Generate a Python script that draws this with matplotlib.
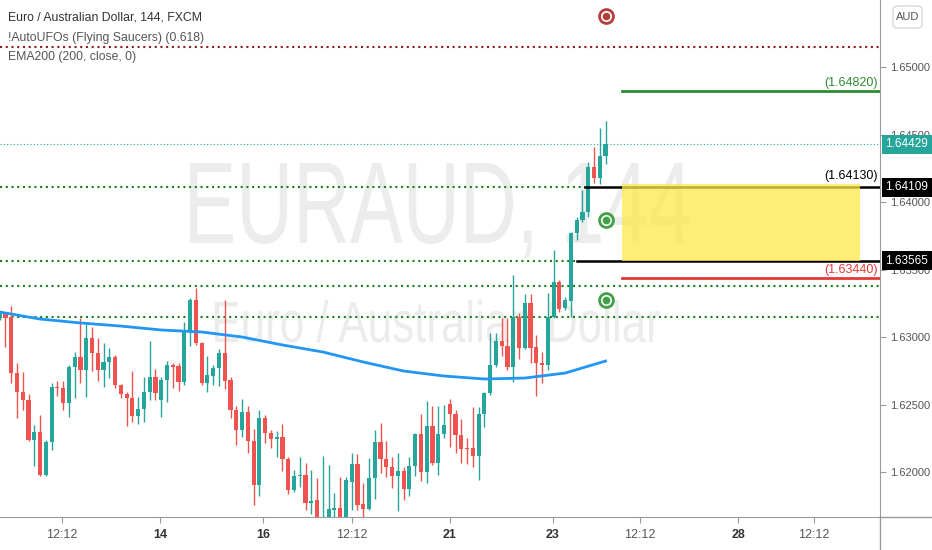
import numpy as np
import matplotlib.pyplot as plt
from matplotlib.patches import Rectangle, FancyBboxPatch, PathPatch
from matplotlib.lines import Line2D
from matplotlib.textpath import TextPath
from matplotlib.font_manager import FontProperties
from matplotlib.transforms import Affine2D

plt.rcParams['font.family'] = ['Liberation Sans', 'DejaVu Sans']

# EURAUD 144 min candles
opens = [1.63141, 1.63178, 1.63148, 1.62733, 1.62592, 1.62533, 1.62237, 1.62296, 1.61977, 1.62222,
         1.62629, 1.62622, 1.62511, 1.62778, 1.62852, 1.62755, 1.62992, 1.62881, 1.62755, 1.62815,
         1.62852, 1.62644, 1.62578, 1.62548, 1.62414, 1.62466, 1.62592, 1.62703, 1.62533, 1.62681,
         1.62792, 1.62785, 1.62666, 1.63037, 1.63274, 1.62955, 1.62659, 1.62711, 1.62770, 1.62881,
         1.62681, 1.62459, 1.62311, 1.62444, 1.62229, 1.61903, 1.62400, 1.62289, 1.62244, 1.62259,
         1.62096, 1.61866, 1.61970, 1.61977, 1.61770, 1.61792, 1.61637, 1.61659, 1.61718, 1.61733,
         1.61659, 1.61926, 1.62059, 1.61762, 1.61726, 1.61955, 1.62222, 1.62096, 1.62037, 1.61970,
         1.62007, 1.61874, 1.62044, 1.62281, 1.62000, 1.62340, 1.62066, 1.62281, 1.62503, 1.62429,
         1.62274, 1.62178, 1.62178, 1.62118, 1.62429, 1.62585, 1.62792, 1.62970, 1.62933, 1.62778,
         1.63148, 1.62918, 1.63252, 1.62926, 1.62807, 1.62792, 1.63148, 1.63407, 1.63215, 1.63267,
         1.63770, 1.63867, 1.63926, 1.64259, 1.64178, 1.64341]
highs = [1.63192, 1.63185, 1.63230, 1.62807, 1.62740, 1.62578, 1.62348, 1.62422, 1.62237, 1.62659,
         1.62674, 1.62674, 1.62792, 1.62889, 1.63141, 1.63096, 1.63074, 1.62992, 1.62955, 1.62918,
         1.62866, 1.62652, 1.62592, 1.62748, 1.62555, 1.62703, 1.62970, 1.62763, 1.62703, 1.62822,
         1.62807, 1.62807, 1.63111, 1.63289, 1.63363, 1.62963, 1.62859, 1.62792, 1.62911, 1.63274,
         1.62703, 1.62489, 1.62540, 1.62489, 1.62318, 1.62459, 1.62422, 1.62311, 1.62303, 1.62355,
         1.62111, 1.62015, 1.62111, 1.62066, 1.62015, 1.61955, 1.62118, 1.62052, 1.61844, 1.61963,
         1.61963, 1.62140, 1.62133, 1.61918, 1.62103, 1.62311, 1.62363, 1.62229, 1.62111, 1.62140,
         1.62037, 1.62111, 1.62289, 1.62429, 1.62526, 1.62489, 1.62489, 1.62496, 1.62540, 1.62459,
         1.62392, 1.62252, 1.62481, 1.62481, 1.62592, 1.63029, 1.63029, 1.63141, 1.63141, 1.63459,
         1.63178, 1.63318, 1.63318, 1.63015, 1.62889, 1.63326, 1.63645, 1.63422, 1.63296, 1.63778,
         1.63889, 1.64089, 1.64296, 1.64407, 1.64548, 1.64600]
lows = [1.63126, 1.62926, 1.62659, 1.62400, 1.62459, 1.62229, 1.62044, 1.61972, 1.61972, 1.62163,
        1.62563, 1.62459, 1.62407, 1.62548, 1.62659, 1.62555, 1.62748, 1.62674, 1.62629, 1.62696,
        1.62622, 1.62548, 1.62340, 1.62370, 1.62355, 1.62370, 1.62533, 1.62533, 1.62407, 1.62518,
        1.62622, 1.62600, 1.62644, 1.62933, 1.62941, 1.62644, 1.62592, 1.62644, 1.62637, 1.62615,
        1.62400, 1.62200, 1.62259, 1.62140, 1.61755, 1.61822, 1.62215, 1.62178, 1.62111, 1.62007,
        1.61836, 1.61851, 1.61888, 1.61718, 1.61688, 1.61644, 1.61615, 1.61644, 1.61666, 1.61644,
        1.61644, 1.61718, 1.61718, 1.61659, 1.61718, 1.61800, 1.61992, 1.61963, 1.61881, 1.61711,
        1.61792, 1.61822, 1.61970, 1.61933, 1.61918, 1.62052, 1.61977, 1.62252, 1.62185, 1.62140,
        1.62066, 1.62059, 1.62037, 1.61940, 1.62333, 1.62570, 1.62778, 1.62859, 1.62755, 1.62666,
        1.62837, 1.62911, 1.62807, 1.62563, 1.62659, 1.62755, 1.63141, 1.63185, 1.63200, 1.63148,
        1.63719, 1.63852, 1.63889, 1.64141, 1.64133, 1.64281]
closes = [1.63178, 1.63141, 1.62733, 1.62592, 1.62533, 1.62237, 1.62296, 1.61977, 1.62222, 1.62629,
          1.62622, 1.62511, 1.62778, 1.62852, 1.62755, 1.62992, 1.62881, 1.62755, 1.62815, 1.62852,
          1.62644, 1.62578, 1.62548, 1.62414, 1.62466, 1.62592, 1.62703, 1.62585, 1.62681, 1.62792,
          1.62778, 1.62666, 1.63037, 1.63274, 1.62955, 1.62659, 1.62718, 1.62770, 1.62881, 1.62674,
          1.62459, 1.62311, 1.62444, 1.62229, 1.61903, 1.62400, 1.62289, 1.62244, 1.62259, 1.62096,
          1.61866, 1.61970, 1.61977, 1.61770, 1.61785, 1.61659, 1.61659, 1.61726, 1.61733, 1.61659,
          1.61940, 1.62059, 1.61755, 1.61726, 1.61955, 1.62222, 1.62096, 1.62037, 1.61970, 1.62007,
          1.61874, 1.62044, 1.62281, 1.62000, 1.62340, 1.62066, 1.62281, 1.62348, 1.62429, 1.62274,
          1.62170, 1.62170, 1.62118, 1.62429, 1.62585, 1.62792, 1.62970, 1.62933, 1.62778, 1.63148,
          1.62918, 1.63252, 1.62918, 1.62807, 1.62792, 1.63148, 1.63407, 1.63207, 1.63274, 1.63770,
          1.63867, 1.63926, 1.64259, 1.64178, 1.64341, 1.64429]

# EMA200 read at some bars
ema_idx = [0, 7, 14, 21, 28, 35, 42, 49, 56, 63, 70, 77, 84, 91, 98, 105]
ema_val = [1.63185, 1.63133, 1.63104, 1.63081, 1.63052, 1.63037, 1.63000, 1.62941,
           1.62889, 1.62815, 1.62748, 1.62711, 1.62689, 1.62696, 1.62733, 1.62822]

# levels
ufo_top = 1.65148
tp_level = 1.64820
box_top = 1.64130
box_bot = 1.63565
sl_level = 1.63440
last_price = 1.64429
fib_levels = [1.64109, 1.63565, 1.63378, 1.63148]
ufo_bar = 105
ufo_red = 1.65378
ufo_green = [1.63867, 1.63274]

xtick_pos = [10.8, 27.78, 45.63, 61.06, 78.04, 95.89, 110.97, 127.96, 141.13]
xtick_lab = ['12:12', '14', '16', '12:12', '21', '23', '12:12', '28', '12:12']
ytick_vals = [1.620, 1.625, 1.630, 1.635, 1.640, 1.645, 1.650]

W, H = 932, 550
fig = plt.figure(figsize=(W / 100, H / 100), dpi=100)
ax = fig.add_axes([0, 33 / H, 880 / W, 517 / H])
ax.set_xlim(0.05, 152.57)
ax.set_ylim(1.616667, 1.654963)
xmax = 152.57


def watermark(txt, x0, x1, ytop, ybase):
    # squeeze a text path into a box given in pixels from the top-left
    fp = FontProperties(family='Liberation Sans')
    tp = TextPath((0, 0), txt, size=1, prop=fp)
    ext = tp.get_extents()
    cap = TextPath((0, 0), 'E', size=1, prop=fp).get_extents().height
    sx = (x1 - x0) / ext.width
    sy = (ybase - ytop) / cap
    tr = (Affine2D().translate(-ext.x0, 0).scale(sx / W, sy / H)
          .translate(x0 / W, (H - ybase) / H) + fig.transFigure)
    ax.add_patch(PathPatch(tp, transform=tr, facecolor='#ececec', edgecolor='none', zorder=0))


watermark('EURAUD, 144', 190, 690, 163, 243)
watermark('Euro / Australian Dollar', 215, 660, 302, 342)

o = np.array(opens); c = np.array(closes)
hi = np.array(highs); lo = np.array(lows)
idx = np.arange(len(o))
up = c >= o
cols = np.where(up, '#26a69a', '#ef5350')
ax.vlines(idx, lo, hi, colors=cols, lw=1, zorder=3)
ax.bar(idx, np.maximum(np.abs(c - o), 0.00008), bottom=np.minimum(o, c),
       width=0.72, color=cols, zorder=4)

ax.plot(ema_idx, ema_val, color='#2196f3', lw=2, zorder=5)

# dotted levels
dots = (0, (1, 1.75))
ax.plot([0, xmax], [ufo_top] * 2, color='#8b1e1e', lw=1.5, ls=dots, zorder=2)
ax.plot([0, xmax], [last_price] * 2, color='#26a69a', lw=0.8, ls=(0, (1, 2)), zorder=2)
ends = [101.4, 100.05, xmax, xmax]
for lev, e in zip(fib_levels, ends):
    ax.plot([0, e], [lev] * 2, color='#1b7f1b', lw=1.5, ls=dots, zorder=2)
ax.plot([101.4, xmax], [fib_levels[0]] * 2, color='black', lw=1.8, zorder=6)
ax.plot([100.05, xmax], [fib_levels[1]] * 2, color='black', lw=1.8, zorder=6)

# target box
ax.add_patch(Rectangle((107.85, box_bot), 149.1 - 107.85, box_top - box_bot,
                       facecolor='#fbe94a', alpha=0.75, edgecolor='none', zorder=7))
ax.plot([107.85, xmax], [tp_level] * 2, color='#2e8b30', lw=2, zorder=7)
ax.plot([107.85, xmax], [sl_level] * 2, color='#e53935', lw=2, zorder=7)
for lev, txt, col in [(tp_level, '(1.64820)', '#2e8b30'), (box_top, '(1.64130)', 'black'),
                      (sl_level, '(1.63440)', '#e53935')]:
    ax.annotate(txt, xy=(152.2, lev), xytext=(0, 1.5), textcoords='offset points',
                ha='right', va='bottom', fontsize=9, color=col, zorder=8)

# UFO markers
ax.plot([ufo_bar], [ufo_red], 'o', ms=10, mfc='none', mec='#b3403f', mew=2, zorder=8)
ax.plot([ufo_bar], [ufo_red], 'o', ms=4.5, color='#b3403f', zorder=8)
for g in ufo_green:
    ax.plot([ufo_bar], [g], 'o', ms=10, mfc='none', mec='#43a047', mew=2, zorder=8)
    ax.plot([ufo_bar], [g], 'o', ms=4.5, color='#43a047', zorder=8)

# axes styling
for s in ['top', 'left']:
    ax.spines[s].set_visible(False)
for s in ['right', 'bottom']:
    ax.spines[s].set_color('#9a9a9a')
ax.yaxis.tick_right()
ax.set_yticks(ytick_vals)
ax.set_yticklabels(['%.5f' % v for v in ytick_vals])
ax.tick_params(axis='y', direction='out', length=4, color='#9a9a9a', labelcolor='#555555',
               labelsize=8, pad=3)
ax.set_xticks(xtick_pos)
ax.set_xticklabels(xtick_lab)
ax.tick_params(axis='x', direction='out', length=4, color='#9a9a9a', labelcolor='#555555',
               labelsize=9, pad=5)
for t in ax.get_xticklabels():
    if ':' not in t.get_text():
        t.set_fontweight('bold')
        t.set_color('#333333')

fig.add_artist(Line2D([880 / W, 1], [33 / H] * 2, color='#9a9a9a', lw=1))
fig.add_artist(Line2D([880 / W] * 2, [0, 33 / H], color='#9a9a9a', lw=1))

# price labels on the right scale
for lev, fc in [(last_price, '#26a69a'), (fib_levels[0], 'black'), (fib_levels[1], 'black')]:
    yp = ax.transData.transform((0, lev))[1]
    fig.add_artist(Rectangle((882 / W, (yp - 9.5) / H), 50 / W, 19 / H,
                             transform=fig.transFigure, facecolor=fc, edgecolor='none', zorder=10))
    fig.text(906 / W, yp / H, '%.5f' % lev, ha='center', va='center', color='white',
             fontsize=8.5, zorder=11)

fig.add_artist(FancyBboxPatch((893 / W, 1 - 28 / H), 29 / W, 22 / H, transform=fig.transFigure,
                              boxstyle='round,pad=0,rounding_size=0.006', facecolor='white',
                              edgecolor='#d8d8d8', lw=1))
fig.text(907.5 / W, 1 - 17 / H, 'AUD', ha='center', va='center', fontsize=8, color='#555555')

# legend lines
fig.text(8 / W, 1 - 17 / H, 'Euro / Australian Dollar, 144, FXCM', va='center',
         fontsize=8.8, color='#333333')
fig.text(8 / W, 1 - 38 / H, '!AutoUFOs (Flying Saucers) (0.618)', va='center',
         fontsize=8.8, color='#555555')
fig.text(8 / W, 1 - 57 / H, 'EMA200 (200, close, 0)', va='center', fontsize=8.8, color='#555555')

fig.savefig('out.png', dpi=100)
